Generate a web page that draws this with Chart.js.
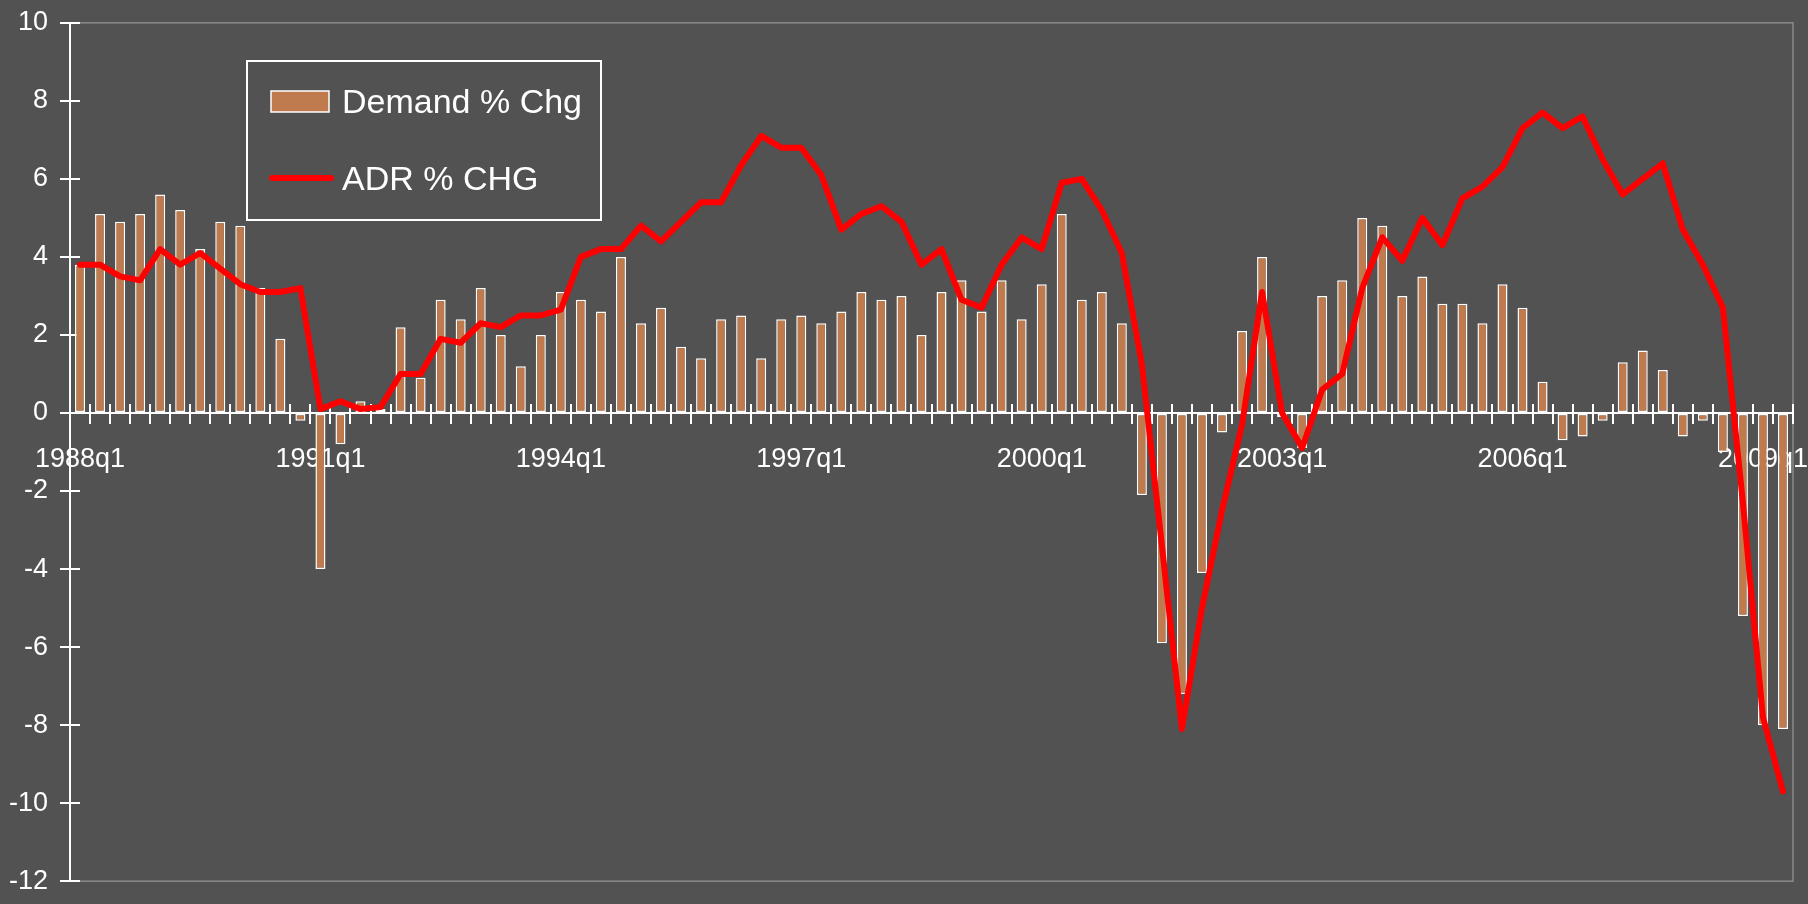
<!DOCTYPE html>
<html>
<head>
<meta charset="utf-8">
<script src="https://cdn.jsdelivr.net/npm/chart.js@4.4.1/dist/chart.umd.min.js"></script>
<style>
  html, body { margin: 0; padding: 0; background: #525252; }
  #wrap { width: 1808px; height: 904px; position: relative; }
</style>
</head>
<body>
<div id="wrap"><canvas id="chart" width="1808" height="904"></canvas></div>
<script>
// Quarterly categories
const quarters = [
  '1988q1','1988q2','1988q3','1988q4','1989q1','1989q2','1989q3','1989q4',
  '1990q1','1990q2','1990q3','1990q4','1991q1','1991q2','1991q3','1991q4',
  '1992q1','1992q2','1992q3','1992q4','1993q1','1993q2','1993q3','1993q4',
  '1994q1','1994q2','1994q3','1994q4','1995q1','1995q2','1995q3','1995q4',
  '1996q1','1996q2','1996q3','1996q4','1997q1','1997q2','1997q3','1997q4',
  '1998q1','1998q2','1998q3','1998q4','1999q1','1999q2','1999q3','1999q4',
  '2000q1','2000q2','2000q3','2000q4','2001q1','2001q2','2001q3','2001q4',
  '2002q1','2002q2','2002q3','2002q4','2003q1','2003q2','2003q3','2003q4',
  '2004q1','2004q2','2004q3','2004q4','2005q1','2005q2','2005q3','2005q4',
  '2006q1','2006q2','2006q3','2006q4','2007q1','2007q2','2007q3','2007q4',
  '2008q1','2008q2','2008q3','2008q4','2009q1','2009q2'
];

// Labelled quarters on the category axis
const tickLabels = ['1988q1','1991q1','1994q1','1997q1','2000q1','2003q1','2006q1','2009q1'];

// Demand % change (bars)
const demandPctChg = [
  3.8, 5.1, 4.9, 5.1, 5.6, 5.2, 4.2, 4.9, 4.8, 3.2,
  1.9, -0.2, -4.0, -0.8, 0.3, 0.1, 2.2, 0.9, 2.9, 2.4,
  3.2, 2.0, 1.2, 2.0, 3.1, 2.9, 2.6, 4.0, 2.3, 2.7,
  1.7, 1.4, 2.4, 2.5, 1.4, 2.4, 2.5, 2.3, 2.6, 3.1,
  2.9, 3.0, 2.0, 3.1, 3.4, 2.6, 3.4, 2.4, 3.3, 5.1,
  2.9, 3.1, 2.3, -2.1, -5.9, -7.2, -4.1, -0.5, 2.1, 4.0,
  -0.1, -0.9, 3.0, 3.4, 5.0, 4.8, 3.0, 3.5, 2.8, 2.8,
  2.3, 3.3, 2.7, 0.8, -0.7, -0.6, -0.2, 1.3, 1.6, 1.1,
  -0.6, -0.2, -1.0, -5.2, -8.0, -8.1
];

// ADR % change (line)
const adrPctChg = [
  3.8, 3.8, 3.5, 3.4, 4.2, 3.8, 4.1, 3.7, 3.3, 3.1,
  3.1, 3.2, 0.1, 0.3, 0.1, 0.15, 1.0, 1.0, 1.9, 1.8,
  2.3, 2.2, 2.5, 2.5, 2.65, 4.0, 4.2, 4.2, 4.8, 4.4,
  4.9, 5.4, 5.4, 6.35, 7.1, 6.8, 6.8, 6.1, 4.7, 5.1,
  5.3, 4.9, 3.8, 4.2, 2.9, 2.7, 3.8, 4.5, 4.2, 5.9,
  6.0, 5.2, 4.1, 1.25, -3.4, -8.1, -5.0, -2.5, -0.3, 3.1,
  0.0, -0.9, 0.6, 1.0, 3.2, 4.5, 3.9, 5.0, 4.3, 5.5,
  5.8, 6.3, 7.3, 7.7, 7.3, 7.6, 6.5, 5.6, 6.0, 6.4,
  4.7, 3.8, 2.7, -2.3, -7.8, -9.7
];

const FONT = '"Liberation Sans", Arial, Helvetica, sans-serif';
const BG = '#525252';
Chart.defaults.font.family = FONT;
Chart.defaults.color = '#ffffff';

// Page background and grey plot-area frame
const frame = {
  id: 'frame',
  beforeDraw(chart) {
    const c = chart.ctx, a = chart.chartArea;
    c.save();
    c.fillStyle = BG;
    c.fillRect(0, 0, chart.width, chart.height);
    c.strokeStyle = '#8a8a8a';
    c.lineWidth = 1.5;
    c.strokeRect(a.left, a.top, a.right - a.left, a.bottom - a.top);
    c.restore();
  }
};

// Inner half of the cross-style tick marks on both axes
const crossTicks = {
  id: 'crossTicks',
  beforeDatasetsDraw(chart) {
    const c = chart.ctx, xs = chart.scales.x, ys = chart.scales.y;
    const y0 = Math.round(ys.getPixelForValue(0));
    c.save();
    c.strokeStyle = '#ffffff';
    c.lineWidth = 2;
    c.beginPath();
    for (let i = 0; i <= xs.ticks.length; i++) {
      const px = Math.round(xs.getPixelForValue(i - 0.5));
      c.moveTo(px, y0);
      c.lineTo(px, y0 - 9);
    }
    ys.ticks.forEach(t => {
      const py = Math.round(ys.getPixelForValue(t.value));
      c.moveTo(ys.right, py);
      c.lineTo(ys.right + 10, py);
    });
    c.stroke();
    c.restore();
  }
};

// Boxed legend in the upper left of the plot
const boxLegend = {
  id: 'boxLegend',
  afterDraw(chart) {
    const c = chart.ctx, ds = chart.data.datasets;
    c.save();
    c.fillStyle = BG;
    c.fillRect(247, 61, 354, 159);
    c.strokeStyle = '#ffffff';
    c.lineWidth = 2;
    c.strokeRect(247, 61, 354, 159);

    c.fillStyle = ds[0].backgroundColor;
    c.fillRect(271, 91, 58, 21);
    c.lineWidth = 1.5;
    c.strokeRect(271, 91, 58, 21);

    c.strokeStyle = ds[1].borderColor;
    c.lineWidth = 6;
    c.lineCap = 'round';
    c.beginPath();
    c.moveTo(272, 178);
    c.lineTo(331, 178);
    c.stroke();

    c.fillStyle = '#ffffff';
    c.font = '34px ' + FONT;
    c.textAlign = 'left';
    c.textBaseline = 'alphabetic';
    c.fillText(ds[0].label, 342, 113);
    c.fillText(ds[1].label, 342, 190);
    c.restore();
  }
};

new Chart(document.getElementById('chart'), {
  data: {
    labels: quarters,
    datasets: [
      {
        type: 'bar',
        label: 'Demand % Chg',
        data: demandPctChg,
        backgroundColor: '#BF7B4E',
        borderColor: '#ffffff',
        borderWidth: 1.5,
        borderSkipped: false,
        barPercentage: 0.5,
        categoryPercentage: 1,
        order: 1
      },
      {
        type: 'line',
        label: 'ADR % CHG',
        data: adrPctChg,
        borderColor: '#ff0000',
        backgroundColor: '#ff0000',
        borderWidth: 6,
        borderJoinStyle: 'round',
        borderCapStyle: 'round',
        pointRadius: 0,
        tension: 0,
        fill: false,
        order: 0
      }
    ]
  },
  options: {
    responsive: false,
    animation: false,
    layout: { padding: { left: 0, right: 15, top: 21, bottom: 12 } },
    plugins: { legend: { display: false }, tooltip: { enabled: false } },
    scales: {
      x: {
        type: 'category',
        position: { y: 0 },
        offset: true,
        afterFit(s) { s.height = 0; },
        grid: {
          offset: true,
          drawOnChartArea: false,
          color: '#ffffff',
          lineWidth: 2,
          tickLength: 10
        },
        border: { display: true, color: '#ffffff', width: 2 },
        ticks: {
          autoSkip: false,
          maxRotation: 0,
          minRotation: 0,
          padding: 20,
          color: '#ffffff',
          font: { size: 27 },
          callback(value) {
            const l = this.getLabelForValue(value);
            return tickLabels.includes(l) ? l : '';
          }
        }
      },
      y: {
        position: 'left',
        min: -12,
        max: 10,
        afterFit(s) { s.width = 70; },
        grid: {
          drawOnChartArea: false,
          color: '#ffffff',
          lineWidth: 2,
          tickLength: 10
        },
        border: { display: true, color: '#ffffff', width: 2 },
        ticks: {
          stepSize: 2,
          padding: 12,
          color: '#ffffff',
          font: { size: 27, lineHeight: 0.8 }
        }
      }
    }
  },
  plugins: [frame, crossTicks, boxLegend]
});
</script>
</body>
</html>
